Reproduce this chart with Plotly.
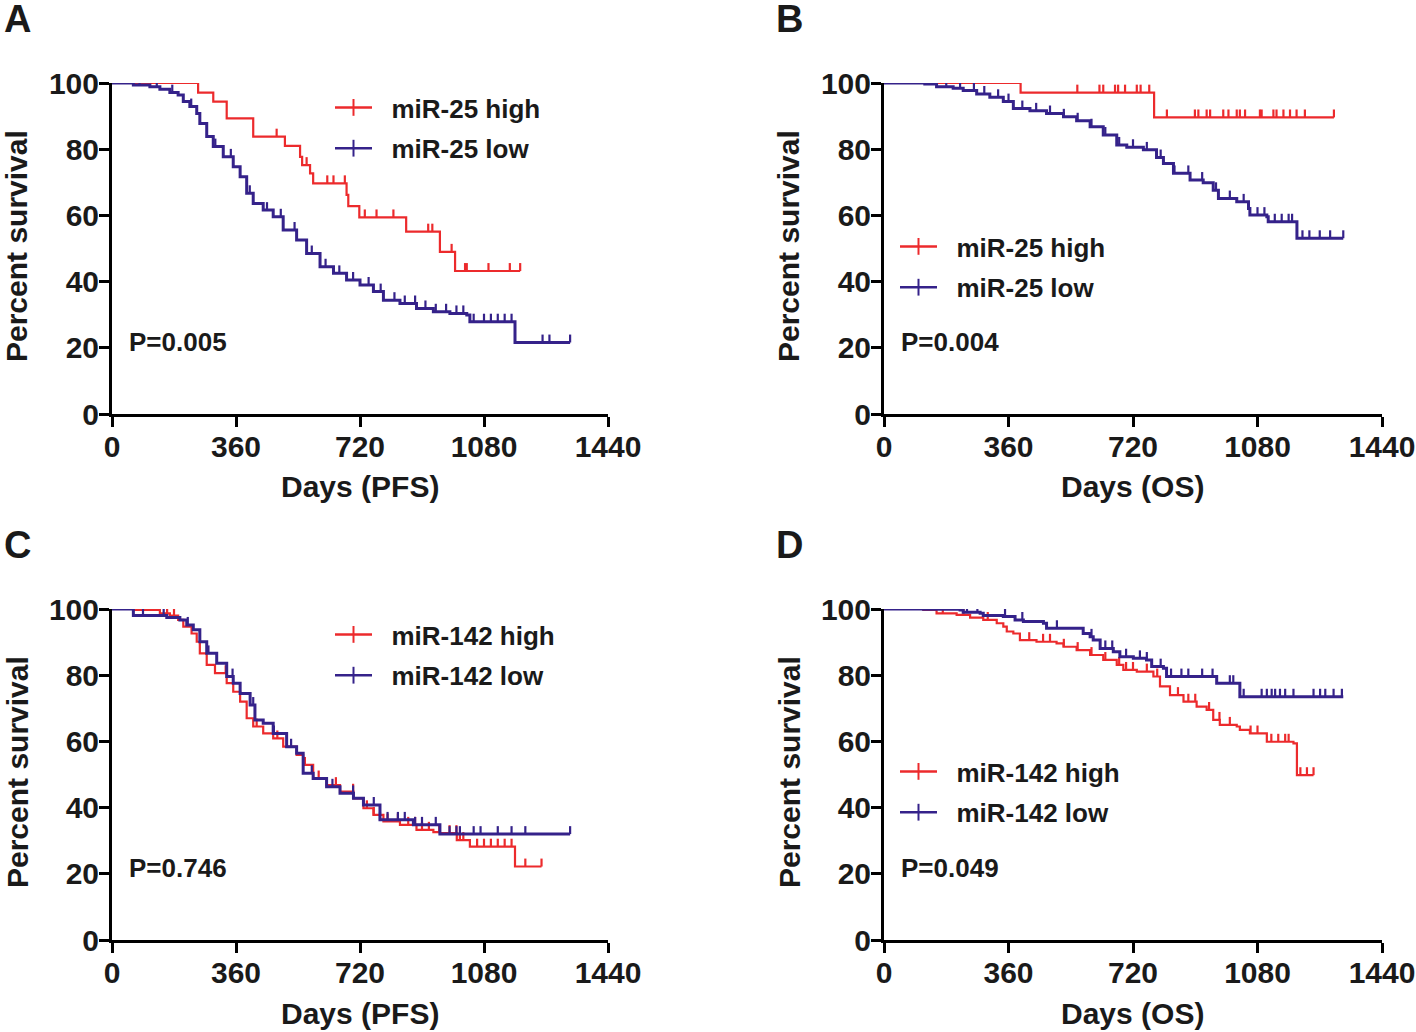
import numpy as np
import plotly.graph_objects as go

# Kaplan-Meier curves (days, percent survival)
# A: miR-25, PFS
A_high_t = [0, 250, 294, 333, 410, 502, 546, 552, 575, 584, 681, 686, 718, 854, 952, 996, 1185]
A_high_s = [100, 97.1, 94.4, 89.3, 83.8, 81.0, 77.7, 75.2, 72.7, 69.7, 66.2, 62.8, 59.4, 55.1, 49.0, 43.2, 43.2]
A_high_cens = [134, 231, 478, 565, 625, 643, 676, 734, 768, 817, 918, 930, 986, 1025, 1030, 1093, 1155, 1185]
A_low_t = [0, 62, 110, 139, 168, 192, 207, 226, 246, 255, 275, 294, 323, 352, 372, 391, 410, 439,
           468, 497, 536, 565, 604, 643, 681, 720, 759, 788, 836, 884, 933, 981, 1030, 1039, 1170, 1330]
A_low_s = [100, 99.4, 98.9, 98.1, 97.1, 96.4, 94.4, 92.9, 90.8, 87.8, 83.8, 80.8, 77.7, 74.7, 71.7, 66.7, 63.6, 61.6,
           59.6, 55.6, 52.6, 48.5, 44.5, 42.5, 40.5, 39.0, 37.0, 34.4, 33.4, 31.9, 30.9, 30.4, 29.9, 27.9, 21.6, 21.6]
A_low_cens = [20, 45, 80, 130, 175, 230, 300, 345, 400, 450, 490, 530, 580, 620, 660, 700, 745, 780, 820, 850,
              880, 910, 940, 970, 1000, 1020, 1050, 1080, 1100, 1120, 1140, 1160, 1250, 1270, 1330]

# B: miR-25, OS
B_high_t = [0, 395, 781, 1301]
B_high_s = [100, 97.1, 89.6, 89.6]
B_high_cens = [164, 227, 559, 623, 634, 668, 677, 697, 731, 742, 767, 818, 899, 909, 933, 943, 981, 996,
               1020, 1029, 1044, 1087, 1092, 1126, 1135, 1155, 1174, 1193, 1217, 1301]
B_low_t = [0, 109, 118, 152, 200, 229, 268, 306, 345, 374, 422, 470, 519, 557, 596, 634, 673, 702, 750, 788,
           808, 837, 885, 923, 952, 967, 1020, 1054, 1058, 1107, 1111, 1194, 1328]
B_low_s = [100, 100, 99.7, 98.9, 98.4, 97.7, 96.7, 95.7, 94.4, 92.3, 91.6, 90.8, 89.8, 88.6, 86.8, 84.3, 81.3, 80.6,
           79.8, 77.5, 75.7, 72.7, 70.7, 69.9, 67.6, 65.1, 64.1, 62.1, 60.1, 59.6, 58.1, 53.1, 53.1]
B_low_cens = [10, 30, 60, 100, 140, 180, 220, 260, 290, 330, 360, 400, 440, 480, 520, 560, 600, 640, 680, 720,
              760, 800, 840, 880, 920, 960, 1000, 1040, 1080, 1100, 1130, 1150, 1170, 1180, 1210, 1230, 1260,
              1290, 1328]

# C: miR-142, PFS
C_high_t = [0, 62, 139, 168, 192, 207, 231, 246, 255, 275, 299, 333, 352, 372, 391, 410, 439, 468, 497, 536,
            555, 584, 623, 662, 701, 730, 759, 788, 836, 884, 933, 952, 1001, 1039, 1170, 1247]
C_high_s = [100, 99.7, 98.7, 98.0, 96.7, 94.7, 92.6, 90.1, 86.6, 83.1, 80.6, 77.6, 75.0, 72.0, 67.0, 64.5, 62.4,
            60.9, 58.4, 55.9, 52.9, 48.8, 46.8, 44.8, 42.8, 39.8, 37.8, 35.8, 34.8, 33.3, 32.6, 32.3, 30.2, 28.2,
            22.2, 22.2]
C_high_cens = [20, 40, 110, 125, 160, 180, 330, 420, 480, 560, 600, 650, 700, 740, 760, 800, 830, 860, 880, 900,
               920, 950, 980, 1000, 1010, 1020, 1060, 1080, 1100, 1120, 1140, 1160, 1200, 1247]
C_low_t = [0, 62, 159, 197, 217, 236, 255, 275, 304, 333, 352, 372, 401, 415, 439, 468, 507, 536, 555, 584,
           623, 662, 701, 730, 778, 875, 952, 1330]
C_low_s = [100, 98.0, 97.4, 96.7, 95.2, 93.7, 90.1, 86.6, 83.6, 79.6, 77.6, 74.5, 71.0, 66.5, 65.5, 62.4, 58.4,
           56.4, 50.4, 48.8, 46.3, 44.3, 42.8, 40.8, 36.3, 34.8, 32.0, 32.0]
C_low_cens = [30, 90, 150, 220, 280, 350, 410, 470, 520, 580, 640, 700, 760, 778, 800, 830, 850, 880, 900, 940,
              980, 1000, 1010, 1050, 1070, 1120, 1160, 1200, 1330]

# D: miR-142, OS
D_high_t = [0, 114, 152, 210, 249, 287, 326, 345, 355, 374, 393, 441, 499, 519, 557, 596, 634, 673, 692, 731,
            779, 798, 827, 866, 904, 933, 952, 971, 1020, 1029, 1058, 1107, 1184, 1194, 1242]
D_high_s = [100, 99.7, 98.7, 98.2, 97.4, 96.7, 95.7, 94.7, 93.2, 92.6, 90.6, 90.1, 89.6, 88.6, 87.6, 86.1, 84.6,
            83.1, 81.6, 81.1, 79.6, 76.6, 74.0, 72.0, 70.5, 69.5, 66.5, 65.0, 64.5, 63.5, 62.4, 59.9, 59.4, 49.8,
            49.8]
D_high_cens = [30, 80, 170, 230, 300, 420, 460, 480, 520, 560, 600, 640, 680, 700, 720, 760, 790, 850, 880, 900,
               940, 970, 1000, 1060, 1080, 1120, 1140, 1160, 1170, 1204, 1223, 1242]
D_low_t = [0, 114, 220, 229, 278, 287, 345, 379, 403, 461, 470, 576, 596, 605, 625, 663, 682, 721, 759, 774,
           808, 817, 962, 1029, 1328]
D_low_s = [100, 99.9, 99.7, 99.0, 98.7, 98.0, 97.7, 96.7, 96.2, 95.7, 94.2, 92.6, 91.6, 90.6, 88.1, 87.1, 85.6,
           85.1, 84.6, 82.6, 82.1, 79.6, 77.6, 73.5, 73.5]
D_low_cens = [15, 40, 160, 200, 240, 270, 350, 400, 500, 600, 640, 660, 700, 740, 760, 800, 830, 860, 880, 920,
              950, 1000, 1010, 1040, 1092, 1107, 1121, 1131, 1145, 1160, 1184, 1242, 1261, 1276, 1300, 1324]

x_ticks = [0, 360, 720, 1080, 1440]
y_ticks = [0, 20, 40, 60, 80, 100]

RED = "#EC2A2C"
BLUE = "#35228A"
FONT = "Liberation Sans, Arial, sans-serif"
INK = "#1a1a1a"
W, H = 1416, 1032
NB = "\u00a0\u00a0"  # extra gap between legend symbol and label


def surv_at(t, s, times):
    idx = np.searchsorted(np.array(t), np.array(times), side="right") - 1
    return list(np.array(s)[idx])


# panel: letter, curves, legend labels, p text, x title, axis ids, pixel geometry
panels = [
    dict(letter="A", ax="", high=(A_high_t, A_high_s, A_high_cens), low=(A_low_t, A_low_s, A_low_cens),
         names=("miR-25 high", "miR-25 low"), p="P=0.005", xt="Days (PFS)",
         x0=112, x1=608, y0=83, y1=414, leg=(330, 84), legname="legend"),
    dict(letter="B", ax="2", high=(B_high_t, B_high_s, B_high_cens), low=(B_low_t, B_low_s, B_low_cens),
         names=("miR-25 high", "miR-25 low"), p="P=0.004", xt="Days (OS)",
         x0=884, x1=1382, y0=83, y1=414, leg=(895, 223), legname="legend2"),
    dict(letter="C", ax="3", high=(C_high_t, C_high_s, C_high_cens), low=(C_low_t, C_low_s, C_low_cens),
         names=("miR-142 high", "miR-142 low"), p="P=0.746", xt="Days (PFS)",
         x0=112, x1=608, y0=609, y1=940, leg=(330, 611), legname="legend3"),
    dict(letter="D", ax="4", high=(D_high_t, D_high_s, D_high_cens), low=(D_low_t, D_low_s, D_low_cens),
         names=("miR-142 high", "miR-142 low"), p="P=0.049", xt="Days (OS)",
         x0=884, x1=1382, y0=609, y1=940, leg=(895, 748), legname="legend4"),
]

fig = go.Figure()
annotations = []
layout = {}

for pn in panels:
    xa, ya = "x" + pn["ax"], "y" + pn["ax"]
    for (t, s, cens), color, width in ((pn["high"], RED, 2.2), (pn["low"], BLUE, 3.0)):
        fig.add_trace(go.Scatter(x=t, y=s, mode="lines", line=dict(color=color, width=width, shape="hv"),
                                 xaxis=xa, yaxis=ya, showlegend=False, cliponaxis=False, hoverinfo="skip"))
        # censored observations: short upward ticks
        fig.add_trace(go.Scatter(x=cens, y=surv_at(t, s, cens), mode="markers",
                                 marker=dict(size=2, color=color, opacity=0),
                                 error_y=dict(type="constant", symmetric=False, value=2.4, valueminus=0,
                                              color=color, thickness=2.2, width=0),
                                 xaxis=xa, yaxis=ya, showlegend=False, cliponaxis=False, hoverinfo="skip"))
    for name, color in zip(pn["names"], (RED, BLUE)):
        fig.add_trace(go.Scatter(x=[None], y=[None], mode="lines+markers", name=NB + name,
                                 line=dict(color=color, width=2.5),
                                 marker=dict(symbol="line-ns", size=12, line=dict(width=2, color=color)),
                                 xaxis=xa, yaxis=ya, legend=pn["legname"], legendgroup=name))

    xkey = "xaxis" + pn["ax"]
    ykey = "yaxis" + pn["ax"]
    axis_common = dict(showline=True, linewidth=3, linecolor="black", ticks="outside", ticklen=10,
                       tickwidth=3, tickcolor="black", showgrid=False, zeroline=False, automargin=False,
                       ticklabelstandoff=-6,
                       tickfont=dict(family=FONT, size=30, color=INK, weight="bold"))
    layout[xkey] = dict(axis_common, domain=[pn["x0"] / W, pn["x1"] / W], range=[0, 1440],
                        tickvals=x_ticks, anchor=ya)
    layout[ykey] = dict(axis_common, domain=[1 - pn["y1"] / H, 1 - pn["y0"] / H], range=[0, 100],
                        tickvals=y_ticks, anchor=xa)
    layout[pn["legname"]] = dict(x=pn["leg"][0] / W, y=1 - pn["leg"][1] / H, xanchor="left", yanchor="top",
                                 bgcolor="rgba(0,0,0,0)", tracegroupgap=4, itemwidth=37,
                                 font=dict(family=FONT, size=26, color=INK, weight="bold"))

    left = pn["x0"] - 112
    top = pn["y0"] - 83
    annotations.append(dict(text=pn["letter"], x=(left + 2) / W, y=1 - (top + 19) / H, xref="paper",
                            yref="paper", xanchor="left", yanchor="middle", showarrow=False,
                            font=dict(family=FONT, size=38, color=INK, weight="bold")))
    annotations.append(dict(text="Percent survival", x=(left + 17) / W, y=1 - (top + 246) / H, xref="paper",
                            yref="paper", xanchor="center", yanchor="middle", textangle=-90, showarrow=False,
                            font=dict(family=FONT, size=30, color=INK, weight="bold")))
    annotations.append(dict(text=pn["xt"], x=(pn["x0"] + 248) / W, y=1 - (pn["y1"] + 73) / H, xref="paper",
                            yref="paper", xanchor="center", yanchor="middle", showarrow=False,
                            font=dict(family=FONT, size=30, color=INK, weight="bold")))
    annotations.append(dict(text=pn["p"], x=(pn["x0"] + 15) / W, y=1 - (pn["y0"] + 259) / H, xref="paper",
                            yref="paper", xanchor="left", yanchor="middle", showarrow=False,
                            font=dict(family=FONT, size=26, color=INK, weight="bold")))

fig.update_layout(width=W, height=H, margin=dict(l=0, r=0, t=0, b=0), plot_bgcolor="white",
                  paper_bgcolor="white", annotations=annotations, **layout)
fig.write_html("out.html", config={"displayModeBar": False},
               post_script="document.body.style.margin='0px';")
